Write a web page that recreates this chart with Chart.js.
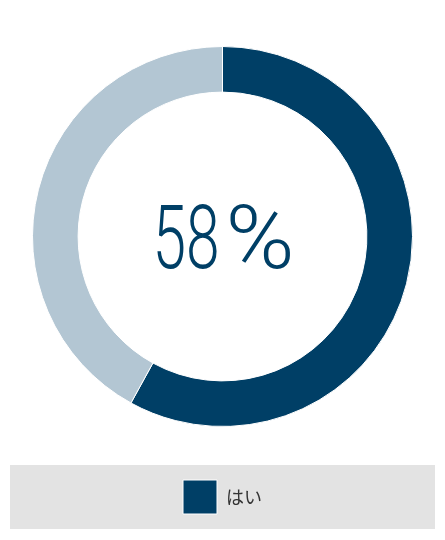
<!DOCTYPE html>
<html>
<head>
<meta charset="utf-8">
<script src="https://cdn.jsdelivr.net/npm/chart.js@4"></script>
<style>
  html, body { margin: 0; padding: 0; background: #fff; }
  #wrap { width: 445px; height: 540px; }
</style>
</head>
<body>
<div id="wrap"><canvas id="donut_chart"></canvas></div>
<script>
const labels = ['はい', 'いいえ'];
const values = [58, 42];
const colors = ['#003f66', '#b3c6d3'];

const donut = document.getElementById('donut_chart');

// 凡例の背景（グレーの帯）
const legendBg = {
  id: 'legendBg',
  beforeDraw(chart) {
    const lg = chart.legend;
    const ctx = chart.ctx;
    ctx.save();
    ctx.fillStyle = '#e3e3e3';
    ctx.fillRect(10, lg.top, 425, 64);
    ctx.restore();
  }
};

// 中央のパーセンテージ
const centerText = {
  id: 'centerText',
  afterDraw(chart) {
    const ctx = chart.ctx;
    const meta = chart.getDatasetMeta(0).data[0];
    const cx = meta.x, cy = meta.y;
    const total = values.reduce((a, b) => a + b, 0);
    const pct = Math.round(values[0] / total * 100);
    ctx.save();
    ctx.fillStyle = colors[0];
    ctx.textBaseline = 'alphabetic';
    ctx.textAlign = 'left';
    // 数字（縦長に圧縮）
    ctx.save();
    ctx.font = '300 89px Roboto';
    ctx.translate(cx - 70, cy + 31);
    ctx.scale(0.68, 1);
    ctx.fillText(String(pct), 0, 0);
    ctx.restore();
    // ％
    ctx.save();
    ctx.font = '300 89px Roboto';
    ctx.translate(cx + 3, cy + 31);
    ctx.scale(1.05, 1);
    ctx.fillText('%', 0, 0);
    ctx.restore();
    ctx.restore();
  }
};

new Chart(donut, {
  type: 'doughnut',
  data: {
    labels: labels,
    datasets: [{
      data: values,
      backgroundColor: colors,
      borderColor: '#fff',
      borderWidth: 1,
      hoverOffset: 0
    }]
  },
  plugins: [legendBg, centerText],
  options: {
    responsive: true,
    maintainAspectRatio: false,
    animation: false,
    radius: 190,
    cutout: '76%',
    layout: {
      padding: { top: 8, bottom: 16, left: 10, right: 10 }
    },
    plugins: {
      tooltip: { enabled: false },
      legend: {
        position: 'bottom',
        labels: {
          boxWidth: 34,
          boxHeight: 34,
          padding: 15,
          color: '#333',
          font: { size: 18, family: '"Noto Sans CJK JP"' },
          filter: (item) => item.index === 0 // 「はい」のみ表示
        }
      }
    }
  }
});
</script>
</body>
</html>
